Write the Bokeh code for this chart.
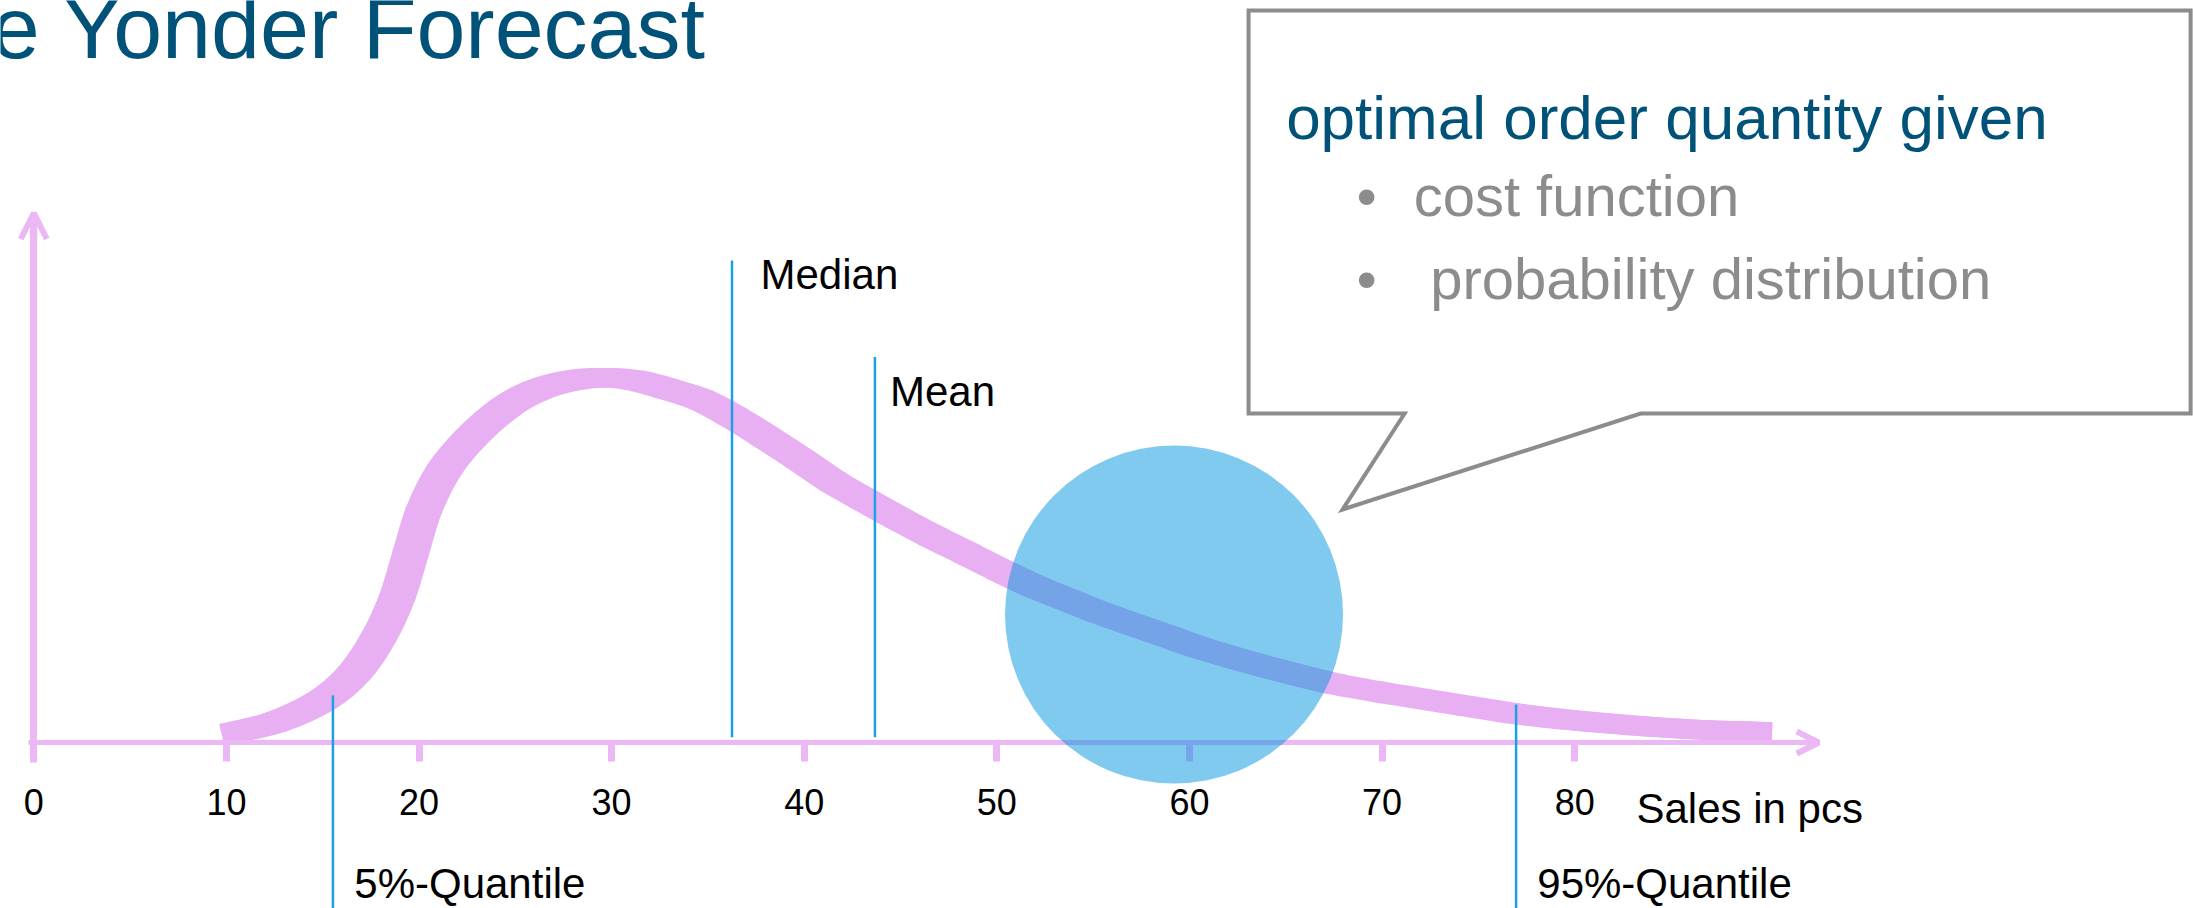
from bokeh.plotting import figure
from bokeh.models import Range1d, FixedTicker, Arrow, OpenHead, ColumnDataSource
from bokeh.transform import dodge
from bokeh.core.properties import value
from bokeh.embed import file_html
from bokeh.resources import INLINE

# ---- data -------------------------------------------------------------
# forecast density curve (sales in pcs vs. probability density in %)
sales = [10.2, 12.55, 14.97, 16.61, 17.91, 18.87, 19.56, 20.25, 21.29, 22.76,
         24.49, 25.96, 27.69, 29.42, 31.15, 32.89, 34.62, 36.34, 38.08, 39.81,
         41.54, 43.27, 45.00, 46.73, 48.46, 50.19, 51.92, 53.65, 55.38, 57.11,
         58.85, 60.58, 64.04, 67.50, 70.96, 74.42, 76.93, 79.62, 83.07, 86.54,
         89.8]
density_pct = [0.066, 0.145, 0.300, 0.491, 0.752, 1.038, 1.348, 1.657, 1.943, 2.186,
               2.393, 2.507, 2.580, 2.606, 2.588, 2.526, 2.449, 2.324, 2.175, 2.020,
               1.859, 1.723, 1.591, 1.466, 1.348, 1.229, 1.116, 1.020, 0.925, 0.841,
               0.759, 0.675, 0.538, 0.419, 0.336, 0.259, 0.205, 0.162, 0.121, 0.091,
               0.079]

# distribution statistics
stat_names = ["5%-Quantile", "Median", "Mean", "95%-Quantile"]
stat_values = [15.53, 36.25, 43.67, 76.96]

# optimal order quantity (highlighted)
optimal_qty = [59.2]

tick_values = [0, 10, 20, 30, 40, 50, 60, 70, 80]
axis_title = "Sales in pcs"
title_text = "e Yonder Forecast"
callout_head = "optimal order quantity given"
callout_items = ["cost function", "probability distribution"]

# ---- styling ----------------------------------------------------------
FONT = value("Liberation Sans")
PINK = "#E8B0F3"
AXIS_PINK = "#ECB7F5"
BLUE_LINE = "#1BA1E2"
DARK_BLUE = "#005278"
GREY = "#8C8C8C"

p = figure(width=2193, height=908,
           x_range=Range1d(-1.729, 112.13), y_range=Range1d(-1.186, 5.3),
           output_backend="svg", toolbar_location=None, min_border=0)
p.outline_line_color = None
p.grid.visible = False
p.background_fill_color = "white"
p.border_fill_color = "white"

# x axis drawn through the origin
xa = p.xaxis[0]
xa.fixed_location = 0
xa.bounds = (-0.28, 92.0)
xa.ticker = FixedTicker(ticks=tick_values)
xa.axis_line_color = AXIS_PINK
xa.axis_line_width = 5
xa.major_tick_line_color = AXIS_PINK
xa.major_tick_line_width = 7
xa.major_tick_in = 0
xa.major_tick_out = 19
xa.minor_tick_line_color = None
xa.major_label_text_font = "Liberation Sans"
xa.major_label_text_font_size = "36px"
xa.major_label_text_color = "black"
xa.major_label_standoff = 28

# y axis without ticks
ya = p.yaxis[0]
ya.fixed_location = 0
ya.bounds = (-0.143, 3.7)
ya.ticker = FixedTicker(ticks=[])
ya.axis_line_color = AXIS_PINK
ya.axis_line_width = 7
ya.major_tick_line_color = None
ya.minor_tick_line_color = None

# arrow heads on both axes
p.add_layout(Arrow(x_start=91.5, y_start=0, x_end=92.67, y_end=0,
                   line_color=AXIS_PINK, line_width=5,
                   end=OpenHead(size=22, line_color=AXIS_PINK, line_width=6)))
p.add_layout(Arrow(x_start=0, y_start=3.6, x_end=0, y_end=3.782,
                   line_color=AXIS_PINK, line_width=7,
                   end=OpenHead(size=26, line_color=AXIS_PINK, line_width=6)))

# density curve: smooth cubic pieces through the points (Catmull-Rom tangents)
n = len(sales)
pts = list(zip(sales, density_pct))
ends = dict(x0=[], y0=[], x1=[], y1=[], cx0=[], cy0=[], cx1=[], cy1=[])
inner = dict(x0=[], y0=[], x1=[], y1=[], cx0=[], cy0=[], cx1=[], cy1=[])
for i in range(n - 1):
    pm, p0, p1, pp = pts[max(i - 1, 0)], pts[i], pts[i + 1], pts[min(i + 2, n - 1)]
    target = ends if i in (0, n - 2) else inner
    target["x0"].append(p0[0]); target["y0"].append(p0[1])
    target["x1"].append(p1[0]); target["y1"].append(p1[1])
    target["cx0"].append(p0[0] + (p1[0] - pm[0]) / 6)
    target["cy0"].append(p0[1] + (p1[1] - pm[1]) / 6)
    target["cx1"].append(p1[0] - (pp[0] - p0[0]) / 6)
    target["cy1"].append(p1[1] - (pp[1] - p0[1]) / 6)

# a broad brush stroke: several copies offset sideways widen the steep parts
for src_dict, cap in ((inner, "round"), (ends, "butt")):
    src = ColumnDataSource(src_dict)
    for shift in (-0.46, -0.23, 0.0, 0.23, 0.46):
        p.bezier(x0=dodge("x0", shift, range=p.x_range), y0="y0",
                 x1=dodge("x1", shift, range=p.x_range), y1="y1",
                 cx0=dodge("cx0", shift, range=p.x_range), cy0="cy0",
                 cx1=dodge("cx1", shift, range=p.x_range), cy1="cy1",
                 source=src, line_color=PINK, line_width=19, line_cap=cap)

# statistic markers
stat_top = [0.336, 3.443, 2.754, 0.271]
stat_bottom = [-1.3, 0.038, 0.038, -1.3]
p.segment(x0=stat_values, y0=stat_bottom, x1=stat_values, y1=stat_top,
          line_color=BLUE_LINE, line_width=2.5, level="overlay")

label_x = [16.64, 37.73, 44.45, 78.06]
label_y = [-1.006, 3.343, 2.509, -1.006]
p.text(x=label_x, y=label_y, text=stat_names, text_font=FONT,
       text_font_size="42px", text_color="black",
       text_baseline="alphabetic", text_align="left", level="overlay")

p.text(x=[83.21], y=[-0.471], text=[axis_title], text_font=FONT,
       text_font_size="42px", text_color="black",
       text_baseline="alphabetic", text_align="left", level="overlay")

# highlighted optimum
p.circle(x=optimal_qty, y=[0.914], radius=169, radius_units="screen",
         fill_color="#0096DE", fill_alpha=0.5, line_color=None, level="overlay")

# title
p.text(x=[34.93], y=[5.11], text=[title_text], text_font=FONT,
       text_font_size="88px", text_color=DARK_BLUE,
       text_baseline="alphabetic", text_align="right")

# speech-bubble callout
bx = [63.07, 111.98, 111.98, 83.42, 67.95, 71.17, 63.07]
by = [5.229, 5.229, 2.35, 2.35, 1.664, 2.35, 2.35]
p.patch(x=bx, y=by, fill_color="white", line_color=GREY, line_width=4,
        line_join="miter", level="overlay")

p.text(x=[65.02], y=[4.467], text=[callout_head], text_font=FONT,
       text_font_size="62px", text_color=DARK_BLUE,
       text_baseline="alphabetic", text_align="left", level="overlay")
p.text(x=[69.2, 69.2], y=[3.907, 3.314], text=["\u2022", "\u2022"], text_font=FONT,
       text_font_size="58px", text_color=GREY,
       text_baseline="alphabetic", text_align="center", level="overlay")
p.text(x=[71.64, 72.5], y=[3.907, 3.314], text=callout_items, text_font=FONT,
       text_font_size="58px", text_color=GREY,
       text_baseline="alphabetic", text_align="left", level="overlay")

open("out.html", "w").write(file_html(p, INLINE))
